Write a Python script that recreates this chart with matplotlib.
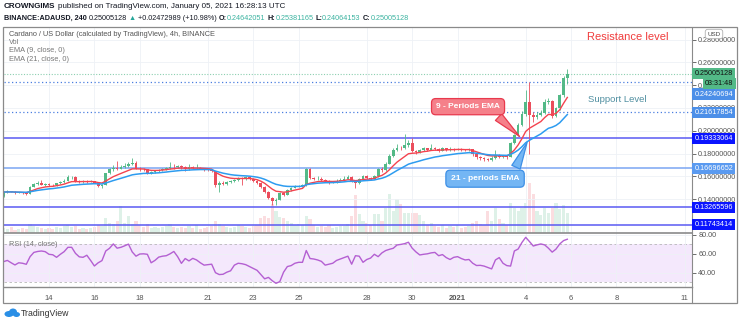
import numpy as np
import pandas as pd
import matplotlib
matplotlib.use('Agg')
import matplotlib.pyplot as plt
from matplotlib.transforms import blended_transform_factory
from matplotlib.patches import Rectangle, Ellipse
from matplotlib.lines import Line2D
from matplotlib.ticker import FormatStrFormatter

plt.rcParams['font.family'] = ['Liberation Sans', 'DejaVu Sans']

# ---------------- data (4h candles, Dec 12 2020 -> Jan 5 2021) ----------------
start_day = 12          # day number (December) of first candle
first_open = 0.1425

closes = [
    0.1462, 0.1468, 0.1465, 0.1455, 0.1458, 0.1450,
    0.1448, 0.1510, 0.1532, 0.1540, 0.1528, 0.1535,
    0.1525, 0.1520, 0.1538, 0.1548, 0.1562, 0.1590,
    0.1595, 0.1555, 0.1550, 0.1558, 0.1552, 0.1558,
    0.1545, 0.1515, 0.1525, 0.1625, 0.1660, 0.1672,
    0.1668, 0.1680, 0.1692, 0.1705, 0.1718, 0.1668,
    0.1662, 0.1660, 0.1628, 0.1635, 0.1648, 0.1655,
    0.1665, 0.1672, 0.1685, 0.1678, 0.1690, 0.1680,
    0.1662, 0.1678, 0.1672, 0.1675, 0.1668, 0.1660,
    0.1658, 0.1645, 0.1525, 0.1545, 0.1535, 0.1552,
    0.1555, 0.1568, 0.1582, 0.1578, 0.1590, 0.1575,
    0.1560, 0.1545, 0.1505, 0.1465, 0.1412, 0.1385,
    0.1395, 0.1450, 0.1440, 0.1478, 0.1500, 0.1512,
    0.1518, 0.1522, 0.1665, 0.1585, 0.1575, 0.1580,
    0.1568, 0.1560, 0.1548, 0.1552, 0.1562, 0.1570,
    0.1580, 0.1598, 0.1560, 0.1538, 0.1578, 0.1600,
    0.1585, 0.1578, 0.1605, 0.1660, 0.1652, 0.1712,
    0.1778, 0.1830, 0.1852, 0.1845, 0.1872, 0.1895,
    0.1820, 0.1812, 0.1830, 0.1845, 0.1835, 0.1852,
    0.1840, 0.1825, 0.1845, 0.1832, 0.1842, 0.1835,
    0.1842, 0.1835, 0.1828, 0.1836, 0.1792, 0.1768,
    0.1760, 0.1748, 0.1745, 0.1762, 0.1785, 0.1772,
    0.1775, 0.1770, 0.1890, 0.1960, 0.2050, 0.2150,
    0.2248, 0.2135, 0.2118, 0.2140, 0.2158, 0.2252,
    0.2258, 0.2130, 0.2195, 0.2312, 0.2464, 0.25005128]

highs = [
    .1470, .1478, .1475, .1470, .1465, .1462,
    .1456, .1518, .1545, .1560, .1565, .1545,
    .1540, .1532, .1545, .1560, .1572, .1612,
    .1605, .1600, .1565, .1566, .1564, .1565,
    .1562, .1550, .1535, .1632, .1672, .1700,
    .1735, .1700, .1720, .1725, .1758, .1730,
    .1680, .1672, .1665, .1645, .1655, .1665,
    .1672, .1685, .1728, .1705, .1700, .1698,
    .1688, .1705, .1690, .1710, .1682, .1672,
    .1668, .1665, .1650, .1560, .1555, .1562,
    .1568, .1578, .1592, .1590, .1600, .1595,
    .1585, .1568, .1550, .1512, .1470, .1420,
    .1410, .1462, .1458, .1485, .1510, .1522,
    .1528, .1535, .1672, .1670, .1595, .1600,
    .1590, .1575, .1565, .1562, .1575, .1585,
    .1605, .1612, .1605, .1568, .1588, .1612,
    .1608, .1595, .1615, .1670, .1685, .1722,
    .1800, .1845, .1880, .1868, .1975, .1920,
    .1940, .1835, .1842, .1858, .1852, .1880,
    .1860, .1848, .1858, .1852, .1856, .1850,
    .1852, .1850, .1842, .1848, .1840, .1798,
    .1775, .1768, .1758, .1775, .1832, .1795,
    .1790, .1785, .1898, .1975, .2068, .2175,
    .2360, .2430, .2165, .2168, .2185, .2275,
    .2285, .2265, .2210, .2325, .2480, 0.25381165]

lows = [
    .1418, .1455, .1458, .1448, .1450, .1442,
    .1440, .1445, .1505, .1525, .1520, .1518,
    .1515, .1512, .1515, .1532, .1540, .1558,
    .1580, .1548, .1542, .1545, .1545, .1546,
    .1538, .1505, .1500, .1520, .1618, .1650,
    .1655, .1660, .1672, .1685, .1698, .1660,
    .1650, .1648, .1618, .1620, .1628, .1640,
    .1648, .1658, .1665, .1668, .1670, .1668,
    .1650, .1655, .1660, .1665, .1660, .1650,
    .1645, .1635, .1505, .1465, .1520, .1528,
    .1542, .1548, .1560, .1520, .1570, .1565,
    .1550, .1535, .1495, .1450, .1400, .1345,
    .1350, .1388, .1428, .1435, .1470, .1495,
    .1505, .1510, .1518, .1578, .1565, .1568,
    .1560, .1550, .1535, .1540, .1545, .1555,
    .1562, .1575, .1550, .1500, .1530, .1570,
    .1575, .1568, .1572, .1598, .1640, .1645,
    .1705, .1768, .1820, .1832, .1838, .1860,
    .1810, .1798, .1805, .1822, .1825, .1828,
    .1830, .1815, .1818, .1822, .1825, .1826,
    .1828, .1826, .1818, .1820, .1782, .1755,
    .1745, .1738, .1730, .1738, .1755, .1762,
    .1762, .1755, .1765, .1880, .1950, .2040,
    .2130, .1800, .2080, .2100, .2125, .2148,
    .2230, .2110, .2120, .2185, .2300, 0.24064153]

volumes = [
    5, 4, 6, 3, 4, 5, 4, 9, 7, 6, 5, 4,
    5, 4, 6, 5, 7, 8, 6, 7, 4, 5, 4, 5,
    6, 8, 7, 15, 10, 9, 12, 27, 10, 17, 9, 12,
    8, 6, 9, 5, 6, 5, 6, 7, 9, 6, 5, 6,
    5, 7, 5, 8, 4, 5, 6, 7, 12, 9, 7, 6,
    5, 6, 8, 7, 6, 5, 7, 8, 15, 17, 15, 29,
    22, 16, 15, 12, 10, 8, 9, 8, 17, 14, 8, 6,
    7, 6, 8, 5, 6, 7, 7, 9, 17, 38, 19, 12,
    10, 8, 19, 19, 12, 25, 39, 22, 34, 29, 20, 20,
    20, 20, 18, 12, 8, 10, 7, 6, 8, 5, 7, 6,
    8, 5, 6, 7, 10, 12, 9, 8, 22, 12, 25, 14,
    10, 8, 30, 25, 22, 25, 30, 50, 39, 22, 18, 25,
    20, 25, 30, 24, 28, 20]

rsi_values = [
    51.7, 53, 50.5, 48.2, 50.5, 50, 48.9, 57, 61.5, 62.5,
    63, 62.3, 59.5, 59, 56.3, 59.5, 62.3, 66.9, 66.9, 60.5,
    56.8, 56.3, 58.5, 53, 47.1, 50.5, 52.8, 63, 65.9, 70.5,
    66, 66.9, 68.5, 70.3, 62, 57.5, 59.8, 60, 59.5, 50.5,
    53, 56.5, 57.5, 58, 60, 62.5, 57, 49.9, 55, 52.5,
    55.2, 53.5, 50.5, 48, 48.5, 49, 40, 38, 38.3, 40.5,
    42, 48, 50, 49.5, 48.5, 46.5, 44.5, 42.5, 38, 33.5,
    35, 31.5, 28.7, 30.5, 40.5, 46.5, 47.5, 50, 51, 51,
    63.5, 55, 54.5, 53.5, 52, 48, 49, 50, 53, 54.5,
    56, 57.5, 49, 58, 57.5, 51, 54, 55.5, 59.5, 57,
    61, 63.5, 64.8, 65.9, 69.4, 70, 70.8, 72.3, 66, 62,
    58.8, 59.5, 60, 61, 61.5, 58, 59.2, 56, 54, 56.3,
    57, 55, 53.5, 54, 50, 47.6, 47.8, 47, 45.5, 44,
    53.5, 56, 50, 47.5, 47, 63, 65.1, 72, 77.5, 73,
    68.3, 69.5, 70.5, 69.5, 66, 61.8, 65, 70.5, 74, 75.5]

solid_levels = [0.19333064, 0.16696652, 0.13265596, 0.11743414]
dotted_levels = [0.24240694, 0.21617854]
last_price = 0.25005128

tick_days = [14, 16, 18, 21, 23, 25, 28, 30, 32, 35, 37, 39, 42]
tick_labels = ['14', '16', '18', '21', '23', '25', '28', '30', '2021', '4', '6', '8', '11']

# ---------------- derived ----------------
n = len(closes)
closes_a = np.array(closes)
opens_a = np.array([first_open] + closes[:-1])
highs_a = np.array(highs)
lows_a = np.array(lows)
t = start_day + np.arange(n) / 6.0
up = closes_a >= opens_a
ema9 = pd.Series(closes_a).ewm(span=9, adjust=False).mean().values
ema21 = pd.Series(closes_a).ewm(span=21, adjust=False).mean().values

GREEN = '#53b987'
RED = '#eb4d5c'

W, H = 740, 324
fig = plt.figure(figsize=(7.4, 3.24), dpi=100)
fig.patch.set_facecolor('white')


def rect(x0, y0, x1, y1):
    return [x0 / W, 1 - y1 / H, (x1 - x0) / W, (y1 - y0) / H]


def fx(x):
    return x / W


def fy(y):
    return 1 - y / H


XLIM = (12.018, 42.326)

# ---------------- main price pane ----------------
ax = fig.add_axes(rect(4, 28, 692, 232.5))
axv = ax.twinx()
ax.set_zorder(2)
axv.set_zorder(1)
ax.patch.set_visible(False)
axv.patch.set_facecolor('white')

axv.bar(t, volumes, width=0.14, color=np.where(up, GREEN, RED), alpha=0.19, linewidth=0)
axv.set_ylim(0, 204.5)
axv.axis('off')

ax.set_xlim(*XLIM)
ax.set_ylim(0.1107, 0.2901)

ax.vlines(t, lows_a, highs_a, colors=np.where(up, GREEN, RED), linewidth=0.6, zorder=3)
body_lo = np.minimum(opens_a, closes_a)
body_h = np.maximum(np.abs(closes_a - opens_a), 0.0003)
ax.bar(t, body_h, bottom=body_lo, width=0.12, color=np.where(up, GREEN, RED), linewidth=0, zorder=4)

ax.plot(t, ema9, color='#f4434f', lw=1.0, zorder=5)
ax.plot(t, ema21, color='#2d9cf0', lw=1.1, zorder=5)

for lv in solid_levels:
    c = '#7aa6f2' if lv == 0.16696652 else '#5a5af2'
    ax.axhline(lv, color=c, lw=1.1, zorder=2)
for lv in dotted_levels:
    ax.axhline(lv, color='#4a7fe0', lw=0.9, ls=(0, (1, 2)), zorder=2)
ax.axhline(last_price, color='#8ccfb0', lw=0.8, ls=(0, (1, 1.5)), zorder=2)

ax.set_xticks(tick_days)
ax.tick_params(axis='x', length=0, labelbottom=False)
ax.yaxis.tick_right()
ax.set_yticks(np.arange(0.14, 0.2801, 0.02))
ax.yaxis.set_major_formatter(FormatStrFormatter('%.8f'))
ax.tick_params(axis='y', length=3, width=0.6, colors='#555555', labelsize=5.2, pad=1.5)
ax.grid(True, color='#eef1f6', lw=0.6, zorder=0)
for s in ('top', 'left'):
    ax.spines[s].set_visible(False)
ax.spines['right'].set_color('#8a8a8a')
ax.spines['right'].set_linewidth(0.8)
ax.spines['bottom'].set_color('#8a8a8a')
ax.spines['bottom'].set_linewidth(1.2)

# price labels on the right axis
btr = blended_transform_factory(ax.transAxes, ax.transData)
label_specs = [
    (0.25005128, GREEN, '#111111', 0),
    (0.24240694, '#4c8fe8', 'white', -8.4),
    (0.21617854, '#4c8fe8', 'white', 0),
    (0.19333064, '#0a14ff', 'white', 0),
    (0.16696652, '#5a9af0', 'white', 0),
    (0.13265596, '#0a14ff', 'white', 0),
    (0.11743414, '#0a14ff', 'white', 0),
]
for val, bg, fg, dy in label_specs:
    ax.annotate('%.8f' % val, xy=(1.0036, val), xycoords=btr, xytext=(0, dy),
                textcoords='offset points', ha='left', va='center', fontsize=5.2, color=fg,
                bbox=dict(boxstyle='square,pad=0.3', fc=bg, ec='none'), annotation_clip=False, zorder=10)
fig.text(fx(705), fy(83.3), '03:31:48', fontsize=5.2, color='#111111', va='center', ha='left',
         bbox=dict(boxstyle='square,pad=0.3', fc=GREEN, ec='none'), zorder=11)
fig.text(fx(714), fy(34), 'USD', fontsize=4.5, color='#444444', va='center', ha='center',
         bbox=dict(boxstyle='round,pad=0.35,rounding_size=0.4', fc='white', ec='#b0b0b0', lw=0.6), zorder=11)

# callouts
ax.annotate('9 - Periods EMA', xy=(34.82, 0.1933), xytext=(32.46, 0.2211), textcoords='data',
            ha='center', va='center', fontsize=6, color='white', fontweight='bold', zorder=12,
            bbox=dict(boxstyle='round,pad=0.55,rounding_size=0.5', fc='#f5808a', ec='#e8394d', lw=0.9),
            arrowprops=dict(arrowstyle='wedge,tail_width=1.1,shrink_factor=0.5', fc='#f5808a', ec='#e8394d',
                            lw=0.9, relpos=(0.86, 0.0)))
ax.annotate('21 - periods EMA', xy=(35.11, 0.1918), xytext=(33.21, 0.1579), textcoords='data',
            ha='center', va='center', fontsize=6, color='white', fontweight='bold', zorder=12,
            bbox=dict(boxstyle='round,pad=0.6,rounding_size=0.5', fc='#74b6f4', ec='#3d8fe6', lw=0.9),
            arrowprops=dict(arrowstyle='wedge,tail_width=1.1,shrink_factor=0.5', fc='#74b6f4', ec='#3d8fe6',
                            lw=0.9, relpos=(0.9, 1.0)))

# ---------------- RSI pane ----------------
rax = fig.add_axes(rect(4, 233, 692, 287))
rax.set_xlim(*XLIM)
rax.set_ylim(24.8, 82.1)
rax.axhspan(30, 70, color='#f4e8fc', lw=0, zorder=0)
rax.axhline(70, color='#b8b8b8', lw=0.6, ls=(0, (3, 3)), zorder=1)
rax.axhline(30, color='#b8b8b8', lw=0.6, ls=(0, (3, 3)), zorder=1)
rax.plot(t, rsi_values, color='#b45fd2', lw=1.0, zorder=3)
rax.yaxis.tick_right()
rax.set_yticks([40, 60, 80])
rax.yaxis.set_major_formatter(FormatStrFormatter('%.2f'))
rax.tick_params(axis='y', length=3, width=0.6, colors='#555555', labelsize=5.2, pad=1.5)
rax.set_xticks(tick_days)
rax.set_xticklabels(tick_labels)
rax.tick_params(axis='x', length=0, colors='#555555', labelsize=5.5, pad=6)
for lbl in rax.get_xticklabels():
    if lbl.get_text() == '2021':
        lbl.set_fontweight('bold')
rax.grid(True, color='#eef1f6', lw=0.6, zorder=0)
for s in ('top', 'left'):
    rax.spines[s].set_visible(False)
rax.spines['right'].set_color('#8a8a8a')
rax.spines['right'].set_linewidth(0.8)
rax.spines['bottom'].set_color('#8a8a8a')
rax.spines['bottom'].set_linewidth(1.0)

# ---------------- frame ----------------
fig.add_artist(Rectangle((fx(3), fy(303)), (737 - 3) / W, (303 - 27) / H, transform=fig.transFigure,
                         fill=False, ec='#8a8a8a', lw=0.9, zorder=20))
fig.add_artist(Line2D([fx(692), fx(692)], [fy(287), fy(303)], transform=fig.transFigure,
                      color='#8a8a8a', lw=0.8))

# ---------------- texts ----------------
renderer = fig.canvas.get_renderer()


def rich(x, y, parts, size):
    for s, color, weight, gap in parts:
        tx = fig.text(fx(x), fy(y), s, fontsize=size, color=color, fontweight=weight, va='center', ha='left')
        x += tx.get_window_extent(renderer).width + gap


DARK = '#131722'
TEAL = '#3bb3a0'
sp = 2.0
rich(4, 7, [('CROWNGIMS', DARK, 'bold', sp),
            ('published on TradingView.com, January 05, 2021 16:28:13 UTC', DARK, 'normal', 0)], 5.75)
rich(4, 18, [('BINANCE:ADAUSD, 240', DARK, 'bold', sp),
             ('0.25005128', DARK, 'normal', sp),
             ('\u25b2', '#26a69a', 'normal', sp),
             ('+0.02472989 (+10.98%)', DARK, 'normal', sp),
             ('O:', DARK, 'bold', 0), ('0.24642051', TEAL, 'normal', sp),
             ('H:', DARK, 'bold', 0), ('0.25381165', TEAL, 'normal', sp),
             ('L:', DARK, 'bold', 0), ('0.24064153', TEAL, 'normal', sp),
             ('C:', DARK, 'bold', 0), ('0.25005128', TEAL, 'normal', 0)], 5.25)

fig.text(fx(9), fy(34.3), 'Cardano / US Dollar (calculated by TradingView), 4h, BINANCE', fontsize=5.3,
         color='#555555', va='center', zorder=15)
fig.text(fx(9), fy(42.5), 'Vol', fontsize=5.3, color='#777777', va='center', zorder=15)
fig.text(fx(9), fy(51), 'EMA (9, close, 0)', fontsize=5.3, color='#777777', va='center', zorder=15)
fig.text(fx(9), fy(59.5), 'EMA (21, close, 0)', fontsize=5.3, color='#777777', va='center', zorder=15)
fig.text(fx(9), fy(244), 'RSI (14, close)', fontsize=5.3, color='#777777', va='center', zorder=15)

fig.text(fx(628), fy(37), 'Resistance level', fontsize=8, color='#f03c3c', va='center', ha='center', zorder=15)
fig.text(fx(588), fy(100), 'Support Level', fontsize=6.8, color='#4f8ea0', va='center', ha='left', zorder=15)

# TradingView logo
for (cx, cy, w, h) in [(9, 314, 9, 6), (13, 312, 8, 7), (16.5, 314.5, 7, 5)]:
    fig.add_artist(Ellipse((fx(cx), fy(cy)), w / W, h / H, transform=fig.transFigure, fc='#2a8fe6', ec='none'))
fig.text(fx(21), fy(313), 'TradingView', fontsize=6.3, color='#333333', va='center', ha='left')

fig.savefig('out.png', dpi=100, facecolor='white')
